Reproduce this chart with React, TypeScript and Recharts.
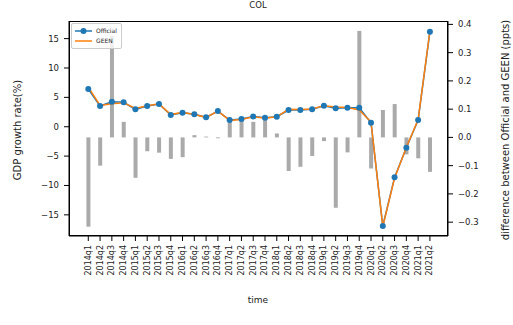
import React from 'react';
import { ComposedChart, Bar, Line, XAxis, YAxis, Legend } from 'recharts';

const quarters = [
  '2014q1', '2014q2', '2014q3', '2014q4', '2015q1', '2015q2', '2015q3', '2015q4',
  '2016q1', '2016q2', '2016q3', '2016q4', '2017q1', '2017q2', '2017q3', '2017q4',
  '2018q1', '2018q2', '2018q3', '2018q4', '2019q1', '2019q2', '2019q3', '2019q4',
  '2020q1', '2020q2', '2020q3', '2020q4', '2021q1', '2021q2',
];

// GDP growth, official release (%)
const official = [
  6.42, 3.53, 4.26, 4.15, 2.96, 3.53, 3.87, 1.99, 2.39, 2.11, 1.6, 2.67, 1.14, 1.31, 1.75,
  1.53, 1.7, 2.84, 2.84, 2.96, 3.58, 3.13, 3.24, 3.24, 0.68, -16.9, -8.62, -3.58, 1.14, 16.18,
];

// GEEN nowcast (%)
const geen = [
  6.74, 3.63, 3.9, 4.1, 3.1, 3.58, 3.92, 2.07, 2.46, 2.1, 1.6, 2.67, 1.07, 1.24, 1.7,
  1.46, 1.69, 2.96, 2.94, 3.03, 3.59, 3.38, 3.29, 2.86, 0.79, -17.0, -8.74, -3.52, 1.21, 16.3,
];

// Official - GEEN (ppts)
const diff = [
  -0.316, -0.1, 0.36, 0.055, -0.143, -0.049, -0.054, -0.076, -0.07, 0.008, 0.003, -0.003,
  0.067, 0.071, 0.055, 0.067, 0.014, -0.119, -0.104, -0.066, -0.013, -0.249, -0.053, 0.377,
  -0.11, 0.097, 0.118, -0.06, -0.074, -0.122,
];

const leftTicks = [-15, -10, -5, 0, 5, 10, 15];
const rightTicks = [-0.3, -0.2, -0.1, 0, 0.1, 0.2, 0.3, 0.4];

const data = quarters.map((time, i) => ({
  time,
  official: official[i],
  geen: geen[i],
  diff: diff[i],
}));

const FONT = '"DejaVu Sans", sans-serif';
const BLUE = '#1f77b4';
const ORANGE = '#ff7f0e';
const INK = '#222';

const minus = (s: string) => s.replace('-', '\u2212');

const XTick = (props: any) => {
  const { x, y, payload } = props;
  return (
    <text
      transform={`translate(${x},${y}) rotate(-90)`}
      textAnchor="end"
      dominantBaseline="central"
      fontSize={8}
      fontFamily={FONT}
      fill={INK}
    >
      {payload.value}
    </text>
  );
};

const LegendBox = () => (
  <div
    style={{
      border: '1px solid #ccc',
      borderRadius: 2,
      background: 'rgba(255,255,255,0.8)',
      padding: '2px 4px 2px 3px',
      fontFamily: FONT,
      fontSize: 6,
      color: INK,
      lineHeight: '10px',
    }}
  >
    <div style={{ display: 'flex', alignItems: 'center' }}>
      <svg width={17} height={8}>
        <line x1={0} y1={4} x2={17} y2={4} stroke={BLUE} strokeWidth={1.5} />
        <circle cx={8.5} cy={4} r={3} fill={BLUE} />
      </svg>
      <span style={{ marginLeft: 4 }}>Official</span>
    </div>
    <div style={{ display: 'flex', alignItems: 'center' }}>
      <svg width={17} height={8}>
        <line x1={0} y1={4} x2={17} y2={4} stroke={ORANGE} strokeWidth={1.5} />
      </svg>
      <span style={{ marginLeft: 4 }}>GEEN</span>
    </div>
  </div>
);

const tickStyle = { fontSize: 8.5, fontFamily: FONT, fill: INK };

const labelStyle: React.CSSProperties = {
  position: 'absolute',
  fontFamily: FONT,
  fontSize: 10,
  color: INK,
  whiteSpace: 'nowrap',
};

export default function App() {
  return (
    <div style={{ position: 'absolute', left: 0, top: 0, width: 513, height: 325, background: '#fff' }}>
      <div style={{ ...labelStyle, fontSize: 8.5, left: 258, top: 5, transform: 'translate(-50%,-50%)' }}>COL</div>
      <ComposedChart
        width={513}
        height={325}
        data={data}
        margin={{ top: 21, right: 0, bottom: 0, left: 0 }}
      >
        <XAxis
          dataKey="time"
          interval={0}
          height={89}
          tick={<XTick />}
          tickSize={5}
          tickMargin={4}
          stroke="#000"
          padding={{ left: 13.4, right: 12.2 }}
        />
        <YAxis
          yAxisId="left"
          width={69}
          domain={[-18.6, 18.0]}
          ticks={leftTicks}
          allowDataOverflow
          tickSize={5}
          tickMargin={5}
          tick={tickStyle}
          tickFormatter={(v: number) => minus(String(v))}
          stroke="#000"
        />
        <YAxis
          yAxisId="right"
          orientation="right"
          width={65}
          domain={[-0.349, 0.412]}
          ticks={rightTicks}
          allowDataOverflow
          tickSize={5}
          tickMargin={5}
          tick={{ ...tickStyle, textAnchor: 'start' }}
          tickFormatter={(v: number) => minus(v.toFixed(1))}
          stroke="#000"
        />
        <Bar yAxisId="right" dataKey="diff" fill="#aaaaaa" barSize={4} isAnimationActive={false} />
        <Line
          yAxisId="left"
          dataKey="official"
          stroke={BLUE}
          strokeWidth={1.5}
          dot={{ r: 3, fill: BLUE, stroke: BLUE, strokeWidth: 0 }}
          activeDot={false}
          isAnimationActive={false}
        />
        <Line
          yAxisId="left"
          dataKey="geen"
          stroke={ORANGE}
          strokeWidth={1.5}
          dot={false}
          activeDot={false}
          isAnimationActive={false}
        />
        <Legend
          layout="vertical"
          align="center"
          verticalAlign="middle"
          content={<LegendBox />}
          wrapperStyle={{ left: 71, top: 23, width: 'auto', height: 'auto' }}
        />
      </ComposedChart>
      <div
        style={{
          position: 'absolute', left: 69, top: 21, width: 379, height: 215,
          border: '1px solid #000', boxSizing: 'border-box', pointerEvents: 'none',
        }}
      />
      <div style={{ ...labelStyle, fontSize: 9, left: 258, top: 300, transform: 'translate(-50%,-50%)' }}>time</div>
      <div style={{ ...labelStyle, left: 17, top: 130, transform: 'translate(-50%,-50%) rotate(-90deg)' }}>
        GDP growth rate(%)
      </div>
      <div style={{ ...labelStyle, left: 505, top: 130, transform: 'translate(-50%,-50%) rotate(-90deg)' }}>
        difference between Official and GEEN (ppts)
      </div>
    </div>
  );
}
